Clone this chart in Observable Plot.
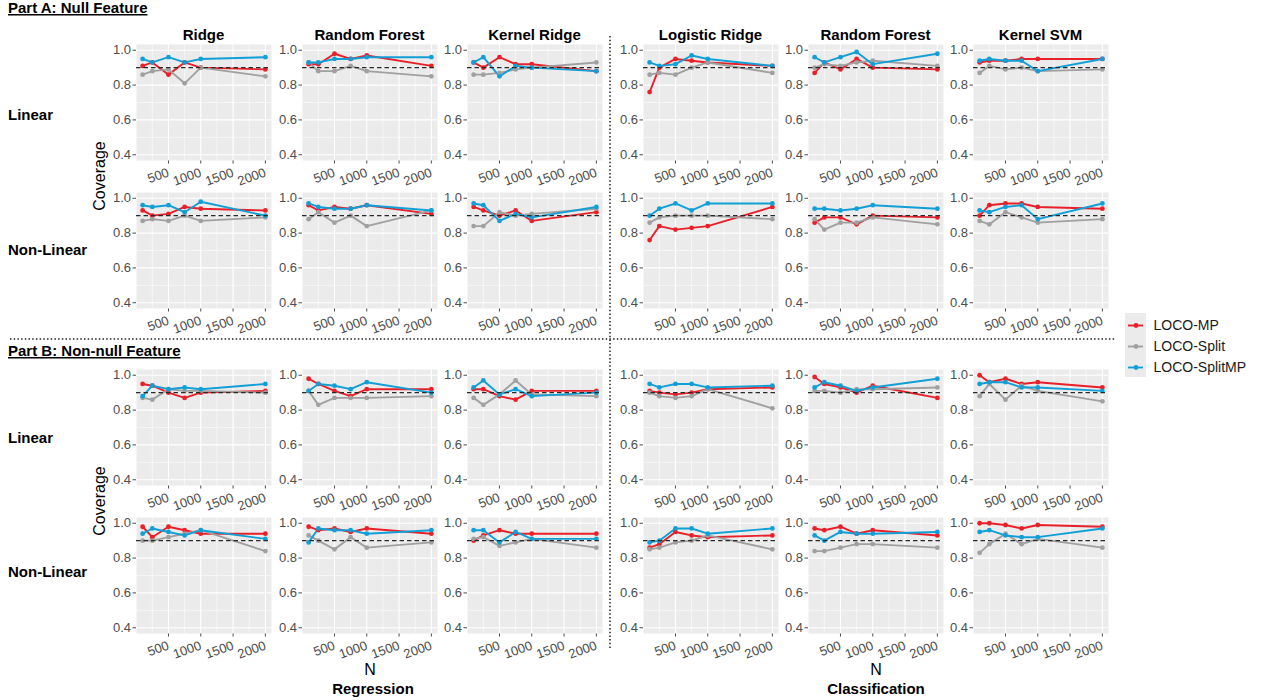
<!DOCTYPE html>
<html>
<head>
<meta charset="utf-8">
<script src="https://cdn.jsdelivr.net/npm/d3@7"></script>
<script src="https://cdn.jsdelivr.net/npm/@observablehq/plot@0.6"></script>
<style>
  html, body { margin: 0; padding: 0; background: #fff; }
  #root { position: relative; width: 1261px; height: 700px; overflow: hidden;
          font-family: "Liberation Sans", Arial, Helvetica, sans-serif; }
  #root > svg, #root > div { position: absolute; }
</style>
</head>
<body>
<div id="root"></div>
<script>
// ---------------- data ----------------
const N = [100, 250, 500, 750, 1000, 2000];
const methods = ["LOCO-MP", "LOCO-Split", "LOCO-SplitMP"];
const methodColors = ["#E8202A", "#A0A0A0", "#129FD6"];
const models = ["Ridge", "Random Forest", "Kernel Ridge", "Logistic Ridge", "Random Forest", "Kernel SVM"];
const tasks = ["Regression", "Classification"];
const parts = ["Part A: Null Feature", "Part B: Non-null Feature"];
const settings = ["Linear", "Non-Linear"];
const xTicks = [500, 1000, 1500, 2000];
const xMinor = [250, 750, 1250, 1750];
const yTicks = [0.4, 0.6, 0.8, 1.0];
const yMinor = [0.5, 0.7, 0.9];
const nominal = [0.9];

// each panel: rows = [LOCO-MP, LOCO-Split, LOCO-SplitMP], columns follow N
const A_Linear_Ridge  = [[0.91,0.93,0.86,0.93,0.90,0.89],[0.86,0.88,0.89,0.81,0.90,0.85],[0.95,0.93,0.96,0.93,0.95,0.96]];
const A_Linear_RFreg  = [[0.92,0.92,0.98,0.95,0.97,0.91],[0.93,0.88,0.88,0.91,0.88,0.85],[0.93,0.93,0.95,0.95,0.96,0.96]];
const A_Linear_KRidge = [[0.93,0.90,0.96,0.92,0.92,0.88],[0.86,0.86,0.87,0.89,0.90,0.93],[0.93,0.96,0.85,0.91,0.90,0.88]];
const A_Linear_LogR   = [[0.76,0.90,0.95,0.94,0.93,0.91],[0.86,0.87,0.86,0.90,0.93,0.87],[0.93,0.91,0.92,0.97,0.95,0.91]];
const A_Linear_RFcls  = [[0.87,0.93,0.89,0.95,0.90,0.89],[0.90,0.92,0.91,0.93,0.94,0.91],[0.96,0.93,0.96,0.99,0.92,0.98]];
const A_Linear_KSVM   = [[0.93,0.94,0.94,0.95,0.95,0.95],[0.87,0.91,0.89,0.90,0.88,0.89],[0.94,0.95,0.94,0.94,0.88,0.95]];

const A_NonLin_Ridge  = [[0.93,0.90,0.91,0.95,0.94,0.93],[0.87,0.88,0.87,0.90,0.87,0.89],[0.96,0.95,0.96,0.92,0.98,0.90]];
const A_NonLin_RFreg  = [[0.96,0.93,0.95,0.94,0.96,0.91],[0.88,0.92,0.86,0.90,0.84,0.93],[0.97,0.95,0.94,0.94,0.96,0.93]];
const A_NonLin_KRidge = [[0.95,0.93,0.90,0.93,0.87,0.92],[0.84,0.84,0.92,0.90,0.91,0.94],[0.97,0.96,0.87,0.91,0.89,0.95]];
const A_NonLin_LogR   = [[0.76,0.84,0.82,0.83,0.84,0.95],[0.86,0.89,0.90,0.90,0.90,0.88],[0.90,0.94,0.97,0.93,0.97,0.97]];
const A_NonLin_RFcls  = [[0.86,0.89,0.89,0.85,0.90,0.89],[0.88,0.82,0.86,0.86,0.89,0.85],[0.94,0.94,0.93,0.94,0.96,0.94]];
const A_NonLin_KSVM   = [[0.90,0.96,0.97,0.97,0.95,0.94],[0.87,0.85,0.92,0.89,0.86,0.88],[0.93,0.92,0.95,0.96,0.88,0.97]];

const B_Linear_Ridge  = [[0.95,0.94,0.90,0.87,0.90,0.91],[0.87,0.86,0.92,0.91,0.91,0.90],[0.88,0.94,0.92,0.93,0.92,0.95]];
const B_Linear_RFreg  = [[0.98,0.95,0.91,0.88,0.92,0.92],[0.91,0.83,0.87,0.87,0.87,0.88],[0.91,0.95,0.94,0.92,0.96,0.90]];
const B_Linear_KRidge = [[0.92,0.92,0.88,0.86,0.91,0.91],[0.87,0.83,0.89,0.97,0.89,0.88],[0.93,0.97,0.89,0.92,0.88,0.90]];
const B_Linear_LogR   = [[0.91,0.90,0.89,0.90,0.92,0.93],[0.90,0.88,0.87,0.88,0.92,0.81],[0.95,0.93,0.95,0.95,0.93,0.94]];
const B_Linear_RFcls  = [[0.99,0.95,0.93,0.90,0.94,0.87],[0.91,0.91,0.90,0.92,0.92,0.93],[0.93,0.96,0.94,0.91,0.93,0.98]];
const B_Linear_KSVM   = [[1.00,0.96,0.98,0.95,0.96,0.93],[0.88,0.95,0.86,0.94,0.91,0.85],[0.95,0.96,0.96,0.93,0.93,0.91]];

const B_NonLin_Ridge  = [[0.98,0.92,0.98,0.96,0.94,0.94],[0.90,0.90,0.92,0.94,0.96,0.84],[0.94,0.97,0.95,0.93,0.96,0.91]];
const B_NonLin_RFreg  = [[0.98,0.96,0.97,0.95,0.97,0.94],[0.93,0.90,0.85,0.92,0.86,0.89],[0.89,0.97,0.96,0.96,0.94,0.96]];
const B_NonLin_KRidge = [[0.90,0.93,0.96,0.94,0.94,0.94],[0.91,0.92,0.87,0.89,0.91,0.86],[0.96,0.96,0.89,0.95,0.91,0.91]];
const B_NonLin_LogR   = [[0.86,0.88,0.95,0.93,0.92,0.93],[0.85,0.86,0.89,0.90,0.93,0.85],[0.89,0.90,0.97,0.97,0.94,0.97]];
const B_NonLin_RFcls  = [[0.97,0.96,0.98,0.94,0.96,0.93],[0.84,0.84,0.86,0.88,0.88,0.86],[0.93,0.90,0.95,0.94,0.94,0.95]];
const B_NonLin_KSVM   = [[1.00,1.00,0.99,0.97,0.99,0.98],[0.83,0.88,0.94,0.88,0.91,0.86],[0.95,0.96,0.93,0.92,0.92,0.97]];

const panelRows = [
  [A_Linear_Ridge, A_Linear_RFreg, A_Linear_KRidge, A_Linear_LogR, A_Linear_RFcls, A_Linear_KSVM],
  [A_NonLin_Ridge, A_NonLin_RFreg, A_NonLin_KRidge, A_NonLin_LogR, A_NonLin_RFcls, A_NonLin_KSVM],
  [B_Linear_Ridge, B_Linear_RFreg, B_Linear_KRidge, B_Linear_LogR, B_Linear_RFcls, B_Linear_KSVM],
  [B_NonLin_Ridge, B_NonLin_RFreg, B_NonLin_KRidge, B_NonLin_LogR, B_NonLin_RFcls, B_NonLin_KSVM]
];

// ---------------- layout ----------------
const root = document.getElementById("root");
const colX = [136, 302, 467, 643, 808, 973];
const rowY = [44, 192, 369, 517];
const PW = 135, PH = 116;
const ML = 36, MR = 4, MT = 4, MB = 36;
const FONT = '"Liberation Sans", Arial, Helvetica, sans-serif';

function panel(values) {
  const data = methods.flatMap((m, i) => N.map((n, j) => ({method: m, N: n, coverage: values[i][j]})));
  return Plot.plot({
    width: PW + ML + MR, height: PH + MT + MB,
    marginLeft: ML, marginRight: MR, marginTop: MT, marginBottom: MB,
    style: {fontSize: "13px", fontFamily: FONT, color: "#4D4D4D", background: "transparent", overflow: "visible"},
    x: {domain: [5, 2095], ticks: xTicks, tickRotate: -20, tickSize: 3.5, tickPadding: 8, label: null, tickFormat: d => String(d)},
    y: {domain: [0.367, 1.033], ticks: yTicks, tickSize: 3.5, tickPadding: 2, label: null, tickFormat: d3.format(".1f")},
    color: {domain: methods, range: methodColors},
    marks: [
      Plot.frame({fill: "#EBEBEB", stroke: "none"}),
      Plot.ruleY(yMinor, {stroke: "white", strokeWidth: 0.55}),
      Plot.ruleX(xMinor, {stroke: "white", strokeWidth: 0.55}),
      Plot.ruleY(yTicks, {stroke: "white", strokeWidth: 1.1}),
      Plot.ruleX(xTicks, {stroke: "white", strokeWidth: 1.1}),
      Plot.line(data, {x: "N", y: "coverage", z: "method", stroke: "method", strokeWidth: 1.9}),
      Plot.dot(data, {x: "N", y: "coverage", fill: "method", r: 2.4}),
      Plot.ruleY(nominal, {stroke: "#2a2a2a", strokeWidth: 1.2, strokeDasharray: "4.5,3"})
    ]
  });
}

panelRows.forEach((row, r) => {
  row.forEach((values, c) => {
    const svg = panel(values);
    svg.style.position = "absolute";
    svg.style.left = (colX[c] - ML) + "px";
    svg.style.top = (rowY[r] - MT) + "px";
    root.appendChild(svg);
  });
});

// ---------------- legend ----------------
const keyBg = document.createElement("div");
Object.assign(keyBg.style, {left: "1125px", top: "313px", width: "21px", height: "64px", background: "#EBEBEB"});
root.appendChild(keyBg);
const legend = Plot.plot({
  width: 136, height: 64, margin: 0,
  style: {fontFamily: FONT, background: "transparent", overflow: "visible"},
  x: {domain: [0, 136], range: [0, 136], axis: null},
  y: {type: "point", padding: 0, domain: methods, range: [11.5, 54.5], axis: null},
  color: {domain: methods, range: methodColors},
  marks: [
    Plot.ruleY(methods, {y: d => d, x1: 3, x2: 18, stroke: d => d, strokeWidth: 1.9}),
    Plot.dot(methods, {y: d => d, x: 10.5, fill: d => d, r: 2.4}),
    Plot.text(methods, {y: d => d, x: 28, text: d => d, textAnchor: "start", fontSize: 14, fill: "#1A1A1A"})
  ]
});
legend.style.position = "absolute";
legend.style.left = "1125px";
legend.style.top = "313px";
root.appendChild(legend);

// ---------------- annotations ----------------
const NS = "http://www.w3.org/2000/svg";
const ov = document.createElementNS(NS, "svg");
ov.setAttribute("width", 1261); ov.setAttribute("height", 700);
ov.style.left = "0px"; ov.style.top = "0px"; ov.style.pointerEvents = "none";
ov.style.fontFamily = FONT;
root.appendChild(ov);
function txt(s, x, y, opts = {}) {
  const t = document.createElementNS(NS, "text");
  t.textContent = s;
  t.setAttribute("x", x); t.setAttribute("y", y);
  t.setAttribute("font-size", opts.size || 15);
  t.setAttribute("fill", opts.fill || "#000");
  if (opts.bold) t.setAttribute("font-weight", "bold");
  if (opts.anchor) t.setAttribute("text-anchor", opts.anchor);
  if (opts.underline) t.setAttribute("text-decoration", "underline");
  if (opts.rotate) t.setAttribute("transform", `rotate(${opts.rotate},${x},${y})`);
  ov.appendChild(t);
}
function dotted(x1, y1, x2, y2, color) {
  const l = document.createElementNS(NS, "line");
  l.setAttribute("x1", x1); l.setAttribute("y1", y1); l.setAttribute("x2", x2); l.setAttribute("y2", y2);
  l.setAttribute("stroke", color); l.setAttribute("stroke-width", 1.4);
  l.setAttribute("stroke-dasharray", "1.5,2.2");
  ov.appendChild(l);
}
txt(parts[0], 8, 13, {bold: true, underline: true});
txt(parts[1], 8, 356, {bold: true, underline: true});
models.forEach((m, c) => txt(m, colX[c] + PW / 2, 40, {bold: true, anchor: "middle"}));
const rowLabelY = [120, 255, 443, 577];
rowLabelY.forEach((y, r) => txt(settings[r % 2], 8, y, {bold: true}));
txt("Coverage", 105, 176, {size: 16, anchor: "middle", rotate: -90});
txt("Coverage", 105, 501, {size: 16, anchor: "middle", rotate: -90});
txt("N", 370, 675, {size: 16, anchor: "middle"});
txt("N", 876, 675, {size: 16, anchor: "middle"});
txt(tasks[0], 373, 694, {bold: true, anchor: "middle"});
txt(tasks[1], 876, 694, {bold: true, anchor: "middle"});
dotted(610, 36, 610, 648, "#111");
dotted(10, 339, 1115, 339, "#222");
</script>
</body>
</html>
